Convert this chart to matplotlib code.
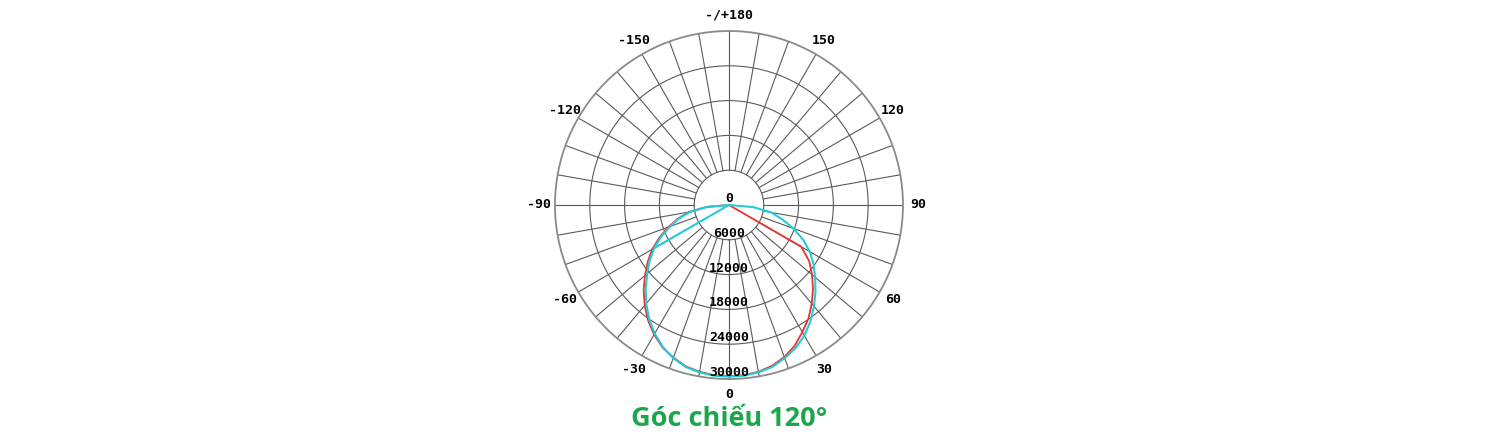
import numpy as np
import matplotlib.pyplot as plt


OUTPUT_FILE = "out.png"

# candela values, angle in degrees (0 = straight down)
ARC_ANGLES = [-90, -85, -80, -75, -70, -65, -60, -55, -50, -45, -40, -35, -30,
              -25, -20, -15, -10, -5, 0, 5, 10, 15, 20, 25, 30, 35, 40, 45,
              50, 55, 60, 65, 70, 75, 80, 85, 90]
CYAN_VALUES = [0, 3800, 6800, 8900, 10800, 12900, 14900, 16700, 18400, 20300, 22200,
               24000, 25600, 27000, 28100, 28900, 29300, 29550, 29600, 29550, 29300,
               28900, 28100, 27200, 26000, 24500, 22800, 21100, 19400, 17800, 16100,
               14100, 11800, 9500, 7400, 4200, 0]

RED_ANGLES = [-90, -85, -80, -75, -70, -65, -60, -55, -50, -45, -40, -35, -30,
              -25, -20, -15, -10, -5, 0, 5, 10, 15, 20, 25, 30, 35, 40, 45,
              50, 55, 60, 90]
RED_VALUES = [0, 3900, 7000, 9100, 11100, 13200, 15300, 17100, 18900, 20800, 22600,
              24300, 25800, 27100, 28000, 28800, 29200, 29450, 29500, 29450, 29200,
              28700, 27900, 26800, 25300, 23900, 22200, 20500, 18700, 16900, 14400, 0]

CHORD_ANGLES = [-90, -60]
CHORD_VALUES = [0, 14900]

RING_VALUES = [6000, 12000, 18000, 24000, 30000]
ANGLE_TICKS = [0, 30, 60, 90, 120, 150, 180, -150, -120, -90, -60, -30]
ANGLE_LABELS = ["0", "30", "60", "90", "120", "150", "-/+180",
                "-150", "-120", "-90", "-60", "-30"]

TITLE = "Góc chiếu 120°"

R_MAX = 30000
GRID_COLOR = "#5a5a5a"
LABEL_FONT = dict(fontsize=9.5, fontweight="bold", family="DejaVu Sans Mono")


def plot_polar():
    fig = plt.figure(figsize=(14.95, 4.41), dpi=100)
    ax = fig.add_axes([0.3712, 0.1406, 0.2328, 0.7891], projection="polar")
    ax.set_theta_zero_location("S")
    ax.set_theta_direction(1)
    ax.set_ylim(0, R_MAX)
    ax.grid(False)
    ax.set_xticks([])
    ax.set_yticks([])
    ax.spines["polar"].set_color("#8a8a8a")
    ax.spines["polar"].set_linewidth(1.3)

    # rings
    t = np.linspace(0, 2 * np.pi, 361)
    for r in RING_VALUES[:-1]:
        ax.plot(t, np.full_like(t, r), color=GRID_COLOR, linewidth=0.8, zorder=1)

    # spokes every 10 degrees, starting at the inner ring
    for deg in range(0, 360, 10):
        th = np.deg2rad(deg)
        ax.plot([th, th], [RING_VALUES[0], R_MAX], color=GRID_COLOR,
                linewidth=0.8, zorder=1)

    ax.plot(np.deg2rad(RED_ANGLES), RED_VALUES, color="#e8342c", linewidth=1.3, zorder=3)
    ax.plot(np.deg2rad(ARC_ANGLES), CYAN_VALUES, color="#22ccd8", linewidth=1.5, zorder=4)
    ax.plot(np.deg2rad(CHORD_ANGLES), CHORD_VALUES, color="#22ccd8", linewidth=1.5, zorder=4)

    # radial labels along the 0 spoke
    ax.text(0, 0, "0", ha="center", va="bottom", zorder=5, **LABEL_FONT)
    for r in RING_VALUES:
        ax.text(0, r, str(r), ha="center", va="bottom", zorder=5, **LABEL_FONT)

    # angle labels around the outside
    for deg, label in zip(ANGLE_TICKS, ANGLE_LABELS):
        ax.text(np.deg2rad(deg), R_MAX * 1.09, label, ha="center", va="center",
                clip_on=False, **LABEL_FONT)

    fig.text(729 / 1495, 1 - 419 / 441, TITLE, ha="center", va="center",
             fontsize=19.5, fontweight="bold", family="Open Sans", color="#1ba64c")

    fig.savefig(OUTPUT_FILE, dpi=100)


def main():
    plot_polar()


if __name__ == "__main__":
    main()
